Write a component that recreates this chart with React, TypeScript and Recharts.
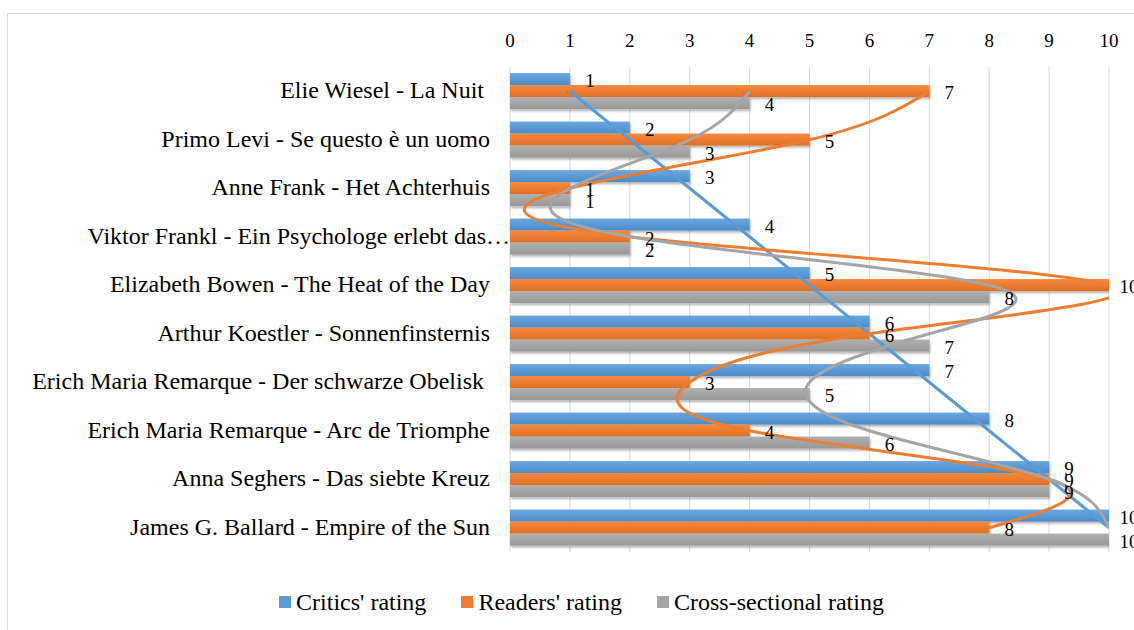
import React from "react";
import {
  ComposedChart,
  Bar,
  Line,
  XAxis,
  YAxis,
  CartesianGrid,
  Legend,
  LabelList,
} from "recharts";

const books = [
  "Elie Wiesel - La Nuit ",
  "Primo Levi - Se questo è un uomo",
  "Anne Frank - Het Achterhuis",
  "Viktor Frankl - Ein Psychologe erlebt das…",
  "Elizabeth Bowen - The Heat of the Day",
  "Arthur Koestler - Sonnenfinsternis",
  "Erich Maria Remarque - Der schwarze Obelisk ",
  "Erich Maria Remarque - Arc de Triomphe",
  "Anna Seghers - Das siebte Kreuz",
  "James G. Ballard - Empire of the Sun",
];
const critics = [1, 2, 3, 4, 5, 6, 7, 8, 9, 10];
const readers = [7, 5, 1, 2, 10, 6, 3, 4, 9, 8];
const crossSectional = [4, 3, 1, 2, 8, 7, 5, 6, 9, 10];
const xTicks = [0, 1, 2, 3, 4, 5, 6, 7, 8, 9, 10];

const series = [
  { key: "critics", name: "Critics' rating", color: "#5B9BD5", light: "#6aa8e0", dark: "#4b8bc8" },
  { key: "readers", name: "Readers' rating", color: "#ED7D31", light: "#f48a40", dark: "#e06f22" },
  { key: "cross", name: "Cross-sectional rating", color: "#A5A5A5", light: "#b0b0b0", dark: "#989898" },
];

const data = books.map((name, i) => ({
  name,
  critics: critics[i],
  readers: readers[i],
  cross: crossSectional[i],
}));

const FONT = '"Liberation Serif", "Times New Roman", serif';

const CategoryTick = ({ x, y, payload }: any) => {
  const label: string = payload.value;
  // the truncated label runs past the others, as in the original
  const shift = label.endsWith("…") ? 20 : 0;
  return (
    <text
      x={x + shift}
      y={y}
      dy="0.3em"
      textAnchor="end"
      fontSize={24}
      fontFamily={FONT}
      fill="#000"
      style={{ whiteSpace: "pre" }}
    >
      {label}
    </text>
  );
};

// value label centred a little past the end of the bar
const ValueLabel = (props: any) => {
  const { x, y, width, height, value } = props;
  return (
    <text
      x={x + width + 20}
      y={y + height / 2}
      dy={8}
      textAnchor="middle"
      fontSize={19}
      fontFamily={FONT}
      fill="#000"
    >
      {value}
    </text>
  );
};

const CustomLegend = () => (
  <ul
    style={{
      display: "flex",
      justifyContent: "center",
      alignItems: "center",
      margin: 0,
      padding: "0 0 0 20px",
      height: 30,
      listStyle: "none",
      fontFamily: FONT,
      fontSize: 24,
      color: "#000",
    }}
  >
    {series.map((s, i) => (
      <li
        key={s.key}
        style={{
          display: "flex",
          alignItems: "center",
          marginRight: i < series.length - 1 ? 35 : 0,
        }}
      >
        <span
          style={{
            width: 12,
            height: 12,
            backgroundColor: s.color,
            display: "block",
            marginRight: 5,
          }}
        />
        {s.name}
      </li>
    ))}
  </ul>
);

const barShape = (id: string) => (props: any) => {
  const { x, y, width, height } = props;
  return (
    <rect
      x={x}
      y={y}
      width={width}
      height={height}
      fill={`url(#grad-${id})`}
      filter="url(#barShadow)"
    />
  );
};

export default function App() {
  return (
    <div
      style={{
        position: "absolute",
        left: 7,
        top: 13,
        width: 1140,
        height: 640,
        borderTop: "1px solid #d9d9d9",
        borderLeft: "1px solid #d9d9d9",
        background: "#fff",
      }}
    >
      <style>{`html, body { overflow: hidden; }`}</style>
      <ComposedChart
        width={1127}
        height={617}
        data={data}
        layout="vertical"
        margin={{ top: 0, right: 26, bottom: 49, left: 0 }}
        barGap={0}
        barCategoryGap="12.5%"
      >
        <defs>
          {series.map((s) => (
            <linearGradient key={s.key} id={`grad-${s.key}`} x1="0" y1="0" x2="0" y2="1">
              <stop offset="0%" stopColor={s.light} />
              <stop offset="100%" stopColor={s.dark} />
            </linearGradient>
          ))}
          <filter id="barShadow" x="-5%" y="-30%" width="110%" height="180%">
            <feDropShadow dx="1" dy="2" stdDeviation="1.3" floodColor="#000" floodOpacity="0.3" />
          </filter>
        </defs>
        <CartesianGrid horizontal={false} stroke="#d9d9d9" strokeWidth={1} />
        <XAxis
          type="number"
          orientation="top"
          domain={[0, 10]}
          ticks={xTicks}
          interval={0}
          allowDataOverflow
          height={53}
          axisLine={false}
          tickLine={false}
          tickSize={0}
          tickMargin={20}
          tick={{ fontSize: 19, fill: "#000", fontFamily: FONT }}
        />
        <YAxis
          type="category"
          dataKey="name"
          width={502}
          axisLine={false}
          tickLine={false}
          tickSize={0}
          tickMargin={20}
          interval={0}
          tick={<CategoryTick />}
        />
        <Legend
          verticalAlign="bottom"
          content={<CustomLegend />}
          wrapperStyle={{ bottom: 14, left: 0, width: 1127 }}
        />
        {series.map((s) => (
          <Bar
            key={`bar-${s.key}`}
            dataKey={s.key}
            name={s.name}
            fill={s.color}
            shape={barShape(s.key)}
            isAnimationActive={false}
          >
            <LabelList dataKey={s.key} content={<ValueLabel />} />
          </Bar>
        ))}
        {series.map((s) => (
          <Line
            key={`line-${s.key}`}
            dataKey={s.key}
            name={s.name}
            type="natural"
            stroke={s.color}
            strokeWidth={3}
            dot={false}
            activeDot={false}
            legendType="none"
            isAnimationActive={false}
          />
        ))}
      </ComposedChart>
    </div>
  );
}
